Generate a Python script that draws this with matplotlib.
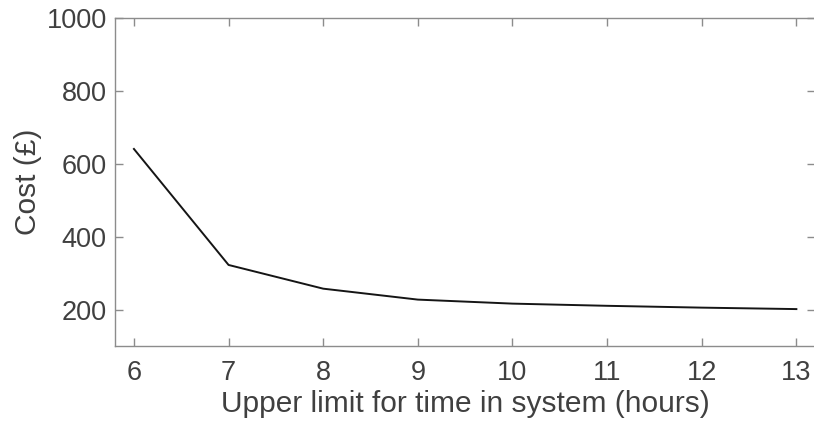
import matplotlib
matplotlib.use("Agg")
import matplotlib.pyplot as plt

hours = [6, 7, 8, 9, 10, 11, 12, 13]
cost = [641, 323, 258, 228, 217, 211, 206, 202]
xticks = [6, 7, 8, 9, 10, 11, 12, 13]
yticks = [200, 400, 600, 800, 1000]

plt.rcParams['font.family'] = ['Liberation Sans', 'DejaVu Sans']
text_c = '#404040'
axis_c = '#8c8c8c'

fig = plt.figure(figsize=(8.14, 4.29), dpi=100)
ax = fig.add_axes([115/814, (429-346.3)/429, (815.3-115)/814, (346.3-18)/429])
ax.plot(hours, cost, color='#151515', lw=1.4)
ax.set_xlim(5.8, 13.2)
ax.set_ylim(100, 1000)
ax.set_xticks(xticks)
ax.set_yticks(yticks)
for s in ax.spines.values():
    s.set_color(axis_c)
    s.set_linewidth(1.0)
ax.tick_params(direction='in', top=True, right=True, length=5.5, width=1.0,
               color=axis_c, labelcolor=text_c, labelsize=19.5)
ax.tick_params(axis='x', pad=10)
ax.tick_params(axis='y', pad=6)
ax.set_xlabel('Upper limit for time in system (hours)', fontsize=21.5, color=text_c, labelpad=3)
ax.set_ylabel('Cost (£)', fontsize=21.5, color=text_c, labelpad=3)
fig.savefig('out.png', dpi=100)
